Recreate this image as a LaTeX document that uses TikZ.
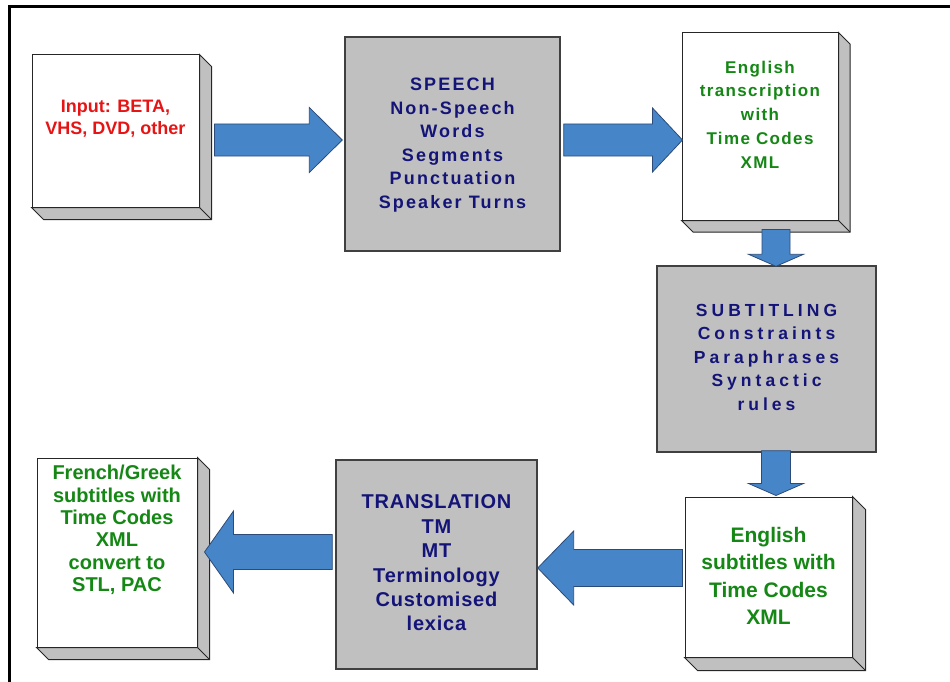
\documentclass[tikz,border=0pt]{standalone}
\usepackage{fontspec}
\setmainfont{Liberation Sans}
\newfontfamily\spaceA[LetterSpace=12]{Liberation Sans}
\newfontfamily\spaceB[LetterSpace=23]{Liberation Sans}
\newfontfamily\spaceC[LetterSpace=8]{Liberation Sans}
\newfontfamily\spaceD[LetterSpace=4]{Liberation Sans}
\usetikzlibrary{calc}

\definecolor{inred}{RGB}{230,20,20}
\definecolor{dgreen}{RGB}{20,135,20}
\definecolor{navytext}{RGB}{20,20,120}
\definecolor{boxgray}{RGB}{192,192,192}
\definecolor{boxedge}{RGB}{64,64,64}
\definecolor{arrowblue}{RGB}{70,134,200}
\definecolor{arrowedge}{RGB}{45,75,120}

\tikzset{
  wbox/.style={draw=black!85, line width=1pt, fill=white, inner sep=0pt},
  gbox/.style={draw=boxedge, line width=1.4pt, fill=boxgray, inner sep=0pt},
  sideface/.style={draw=black!85, line width=1pt, fill=boxgray, line join=miter},
  barrow/.style={draw=arrowedge, line width=0.8pt, fill=arrowblue, line join=miter},
  txt/.style={align=center, inner sep=0pt},
  frameline/.style={line width=3pt, draw=black}
}

% slab: grey right and bottom faces of a raised white box
\newcommand\slab[2]{%
  \filldraw[sideface] (#1.north east) -- ++(#2,#2) -- ($(#1.south east)+(#2,#2)$)
    -- ($(#1.south west)+(#2,#2)$) -- (#1.south west) -- (#1.south east) -- cycle;
  \draw[sideface] (#1.south east) -- ++(#2,#2);
}

% block arrow from #1 to #2: shaft half width #3, head half width #4, head length #5
\newcommand\blockarrow[5]{%
  \filldraw[barrow] ($(#1)!#3pt!90:(#2)$)
    -- ($(#2)!#5pt!(#1)!#3pt!90:(#2)$)
    -- ($(#2)!#5pt!(#1)!#4pt!90:(#2)$)
    -- (#2)
    -- ($(#2)!#5pt!(#1)!#4pt!-90:(#2)$)
    -- ($(#2)!#5pt!(#1)!#3pt!-90:(#2)$)
    -- ($(#1)!#3pt!-90:(#2)$) -- cycle;
}

\begin{document}
\begin{tikzpicture}[x=1pt, y=-1pt]
\useasboundingbox (0,0) rectangle (950,682);

% frame
\draw[frameline] (8,6.5) -- (950,6.5);
\draw[frameline] (9.5,5) -- (9.5,682);

% boxes
\node[wbox, minimum width=167, minimum height=152] (inp) at (115.5,131) {};
\slab{inp}{12}
\node[gbox, minimum width=215, minimum height=214] (speech) at (452.5,144) {};
\node[wbox, minimum width=156, minimum height=187] (trans) at (760,126.5) {};
\slab{trans}{11.5}
\node[gbox, minimum width=219, minimum height=186] (subt) at (766.5,359) {};
\node[wbox, minimum width=167, minimum height=160] (ensub) at (768.5,577) {};
\slab{ensub}{13}
\node[gbox, minimum width=201, minimum height=209] (transl) at (436.5,564.5) {};
\node[wbox, minimum width=160, minimum height=189] (frgr) at (117,552.5) {};
\slab{frgr}{12}

% texts
\node[txt, text=inred, font={\fontsize{18}{22}\selectfont\bfseries}] (inp-t) at (115.5,119)
  {Input: BETA,\\VHS, DVD, other};
\node[txt, text=navytext, font={\spaceA\fontsize{18}{23.6}\selectfont\bfseries}] (speech-t) at (452.5,145)
  {SPEECH\\Non-Speech\\Words\\Segments\\Punctuation\\Speaker Turns};
\node[txt, text=dgreen, font={\spaceC\fontsize{17}{23.75}\selectfont\bfseries}] (trans-t) at (760,114.5)
  {English\\transcription\\with\\Time Codes\\XML};
\node[txt, text=navytext, font={\spaceB\fontsize{17.5}{23.5}\selectfont\bfseries}] (subt-t) at (766.5,357)
  {SUBTITLING\\Constraints\\Paraphrases\\Syntactic\\rules};
\node[txt, text=dgreen, font={\fontsize{21}{27.3}\selectfont\bfseries}] (ensub-t) at (768.5,576)
  {English\\subtitles with\\Time Codes\\XML};
\node[txt, text=navytext, font={\spaceD\fontsize{20}{24.4}\selectfont\bfseries}] (transl-t) at (436.5,563)
  {TRANSLATION\\TM\\MT\\Terminology\\Customised\\lexica};
\node[txt, text=dgreen, font={\fontsize{20}{22.4}\selectfont\bfseries}] (frgr-t) at (117,530)
  {French/Greek\\subtitles with\\Time Codes\\XML\\convert to\\STL, PAC};

% arrow end points
\coordinate (a1s) at ($(inp.east)+(15,9)$);
\coordinate (a1e) at ($(speech.west)+(-2,-4)$);
\coordinate (a2s) at ($(speech.east)+(3,-4)$);
\coordinate (a2e) at ($(trans.west)+(1,13.5)$);
\coordinate (a3s) at ($(trans.south)+(16,9)$);
\coordinate (a3e) at ($(subt.north)+(9.5,1)$);
\coordinate (a4s) at ($(subt.south)+(9.5,-2)$);
\coordinate (a4e) at ($(ensub.north)+(7.5,-1)$);
\coordinate (a5s) at ($(ensub.west)+(-2,-9)$);
\coordinate (a5e) at ($(transl.east)+(0,3.5)$);
\coordinate (a6s) at ($(transl.west)+(-3,-12.5)$);
\coordinate (a6e) at ($(frgr.east)+(7,-0.5)$);

% block arrows
\blockarrow{a1s}{a1e}{16}{32.5}{33}
\blockarrow{a2s}{a2e}{16}{32}{30}
\blockarrow{a3s}{a3e}{14}{27.5}{12}
\blockarrow{a4s}{a4e}{14.5}{27.5}{12}
\blockarrow{a5s}{a5e}{18.5}{37}{36}
\blockarrow{a6s}{a6e}{17.5}{41}{29}
\end{tikzpicture}
\end{document}
